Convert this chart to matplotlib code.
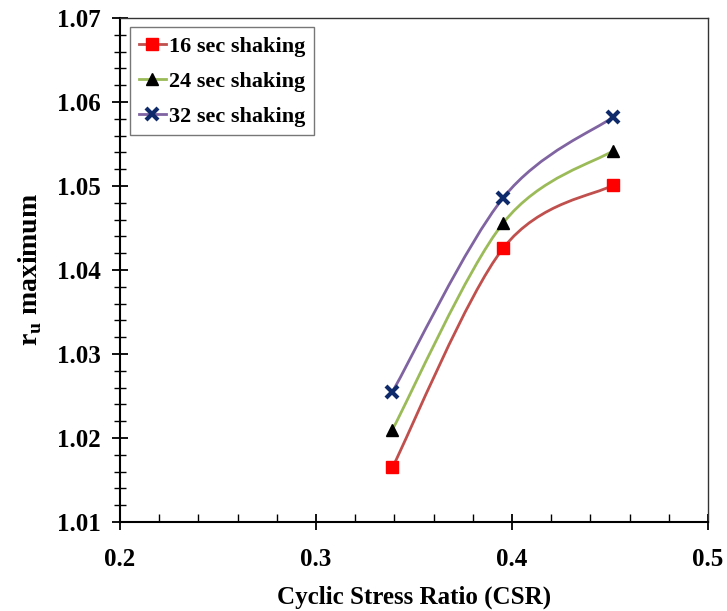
import numpy as np
import matplotlib
matplotlib.use('Agg')
from matplotlib import pyplot as plt
from matplotlib.path import Path
from matplotlib.patches import PathPatch
from matplotlib.lines import Line2D
from matplotlib.ticker import MultipleLocator, FormatStrFormatter

csr = [0.339, 0.3955, 0.4515]
ru_16 = [1.0165, 1.0426, 1.0501]
ru_24 = [1.0210, 1.0456, 1.0542]
ru_32 = [1.0255, 1.0486, 1.0582]
labels = ['16 sec shaking', '24 sec shaking', '32 sec shaking']

plt.rcParams['font.family'] = ['Liberation Serif', 'DejaVu Serif']
plt.rcParams['font.weight'] = 'bold'
plt.rcParams['mathtext.fontset'] = 'custom'
plt.rcParams['mathtext.rm'] = 'Liberation Serif:bold'
plt.rcParams['mathtext.bf'] = 'Liberation Serif:bold'


def smooth_path(xs, ys):
    # excel style smoothed line: catmull-rom control points -> cubic beziers
    pts = np.column_stack([xs, ys])
    n = len(pts)
    verts = [pts[0]]
    codes = [Path.MOVETO]
    for i in range(n - 1):
        p0 = pts[i - 1] if i > 0 else pts[i]
        p1 = pts[i]
        p2 = pts[i + 1]
        p3 = pts[i + 2] if i + 2 < n else pts[i + 1]
        c1 = p1 + (p2 - p0) / 6
        c2 = p2 - (p3 - p1) / 6
        verts += [c1, c2, p2]
        codes += [Path.CURVE4] * 3
    return Path(verts, codes)


fig = plt.figure(figsize=(7.27, 6.11), dpi=100)
ax = fig.add_axes([0.165, 0.1457, 0.809, 0.8248])

series = [
    (ru_16, '#C0504D', 's', '#FF0000', 8),
    (ru_24, '#9BBB59', '^', '#000000', 8),
    (ru_32, '#8064A2', 'x', '#0E2A6B', 9),
]
handles = []
for (ys, lc, mk, mc, ms), lab in zip(series, labels):
    patch = PathPatch(smooth_path(csr, ys), facecolor='none', edgecolor=lc, lw=2, zorder=2)
    ax.add_patch(patch)
    ax.plot(csr, ys, linestyle='none', marker=mk, color=mc, markersize=ms,
            markeredgewidth=3 if mk == 'x' else 1, zorder=3)
    handles.append(Line2D([], [], color=lc, lw=2, marker=mk, markerfacecolor=mc,
                          markeredgecolor=mc, markersize=ms,
                          markeredgewidth=3 if mk == 'x' else 1, label=lab))

ax.set_xlim(0.2, 0.5)
ax.set_ylim(1.01, 1.07)
ax.xaxis.set_major_locator(MultipleLocator(0.1))
ax.xaxis.set_minor_locator(MultipleLocator(0.02))
ax.yaxis.set_major_locator(MultipleLocator(0.01))
ax.yaxis.set_minor_locator(MultipleLocator(0.002))
ax.xaxis.set_major_formatter(FormatStrFormatter('%.1f'))
ax.yaxis.set_major_formatter(FormatStrFormatter('%.2f'))
ax.tick_params(axis='x', which='major', direction='inout', length=12, width=1.3, labelsize=18, pad=13)
ax.tick_params(axis='x', which='minor', direction='in', length=6, width=1)
ax.tick_params(axis='y', which='major', direction='inout', length=12, width=1.3, labelsize=18, pad=8)
ax.tick_params(axis='y', which='minor', direction='inout', length=8, width=1)
for s in ['left', 'bottom']:
    ax.spines[s].set_linewidth(1.5)
for s in ['top', 'right']:
    ax.spines[s].set_linewidth(1)
    ax.spines[s].set_color('#333333')

ax.set_xlabel('Cyclic Stress Ratio (CSR)', fontsize=18, fontweight='bold', labelpad=10)
ax.set_ylabel(r'r$_\mathbf{u}$ maximum', fontsize=20, fontweight='bold', labelpad=9)

leg = ax.legend(handles=handles, loc='upper left', bbox_to_anchor=(0.017, 0.982),
                fontsize=16, frameon=True, fancybox=False, handlelength=1.2,
                handletextpad=0.15, borderpad=0.4, labelspacing=0.65, borderaxespad=0)
leg.get_frame().set_edgecolor('#555555')
leg.get_frame().set_linewidth(1)

fig.savefig('out.png', dpi=100)
